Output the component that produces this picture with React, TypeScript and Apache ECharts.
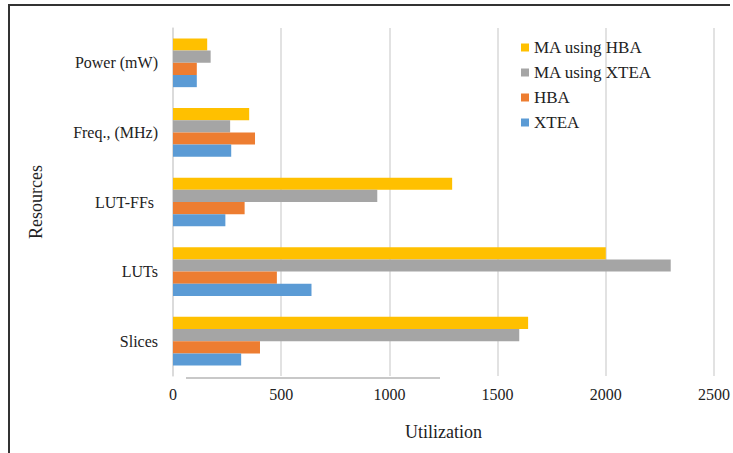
import React, { useEffect, useRef } from "react";
import * as echarts from "echarts";

const categories = ["Slices", "LUTs", "LUT-FFs ", "Freq., (MHz)", "Power (mW)"];
const xtea = [315, 640, 242, 269, 110];
const hba = [402, 480, 331, 379, 110];
const maXtea = [1600, 2300, 944, 264, 174];
const maHba = [1641, 2000, 1290, 352, 158];
const xTicks = { min: 0, max: 2500, interval: 500 };

const FONT = "'Times New Roman', 'Liberation Serif', serif";

export default function App() {
  const ref = useRef<HTMLDivElement>(null);
  useEffect(() => {
    const chart = echarts.init(ref.current!, null, { renderer: "svg" });
    const mk = (name: string, data: number[], color: string) => ({
      name,
      type: "bar",
      data,
      barGap: "0%",
      barCategoryGap: "30%",
      itemStyle: { color },
    });
    chart.setOption({
      animation: false,
      backgroundColor: "#fff",
      textStyle: { fontFamily: FONT },
      grid: { left: 173, right: 19, top: 28, bottom: 77 },
      legend: {
        orient: "vertical",
        left: 516,
        top: 34,
        itemWidth: 8,
        itemHeight: 8,
        itemGap: 8,
        icon: "rect",
        data: ["MA using HBA", "MA using XTEA", "HBA", "XTEA"],
        textStyle: { fontFamily: FONT, fontSize: 17, color: "#222" },
      },
      xAxis: {
        type: "value",
        ...xTicks,
        name: "Utilization",
        nameLocation: "middle",
        nameGap: 47,
        nameTextStyle: { fontFamily: FONT, fontSize: 18, color: "#222" },
        axisLine: { show: false },
        axisTick: { show: false },
        axisLabel: { fontFamily: FONT, fontSize: 16, color: "#222", margin: 10, formatter: (v: number) => String(v) },
        splitLine: { show: true, lineStyle: { color: "#d9d9d9", width: 1.5 } },
      },
      yAxis: {
        type: "category",
        data: categories,
        name: "Resources",
        nameLocation: "middle",
        nameGap: 128,
        nameTextStyle: { fontFamily: FONT, fontSize: 18, color: "#222" },
        axisLine: { show: true, lineStyle: { color: "#d9d9d9", width: 1.5 } },
        axisTick: { show: false },
        axisLabel: { fontFamily: FONT, fontSize: 16, color: "#222", margin: 15 },
      },
      series: [
        mk("MA using HBA", maHba, "#FFC000"),
        mk("MA using XTEA", maXtea, "#A5A5A5"),
        mk("HBA", hba, "#ED7D31"),
        mk("XTEA", xtea, "#5B9BD5"),
      ],
      graphic: [
        { type: "line", shape: { x1: 8, y1: 5, x2: 730, y2: 5 }, style: { stroke: "#333", lineWidth: 2 } },
        { type: "line", shape: { x1: 9, y1: 5, x2: 9, y2: 453 }, style: { stroke: "#333", lineWidth: 2 } },
        { type: "line", shape: { x1: 186, y1: 378, x2: 440, y2: 378 }, style: { stroke: "#c8c8c8", lineWidth: 2 } },
      ],
    });
    return () => chart.dispose();
  }, []);
  return (
    <div
      ref={ref}
      style={{ position: "absolute", left: 0, top: 0, width: 733, height: 453 }}
    />
  );
}
